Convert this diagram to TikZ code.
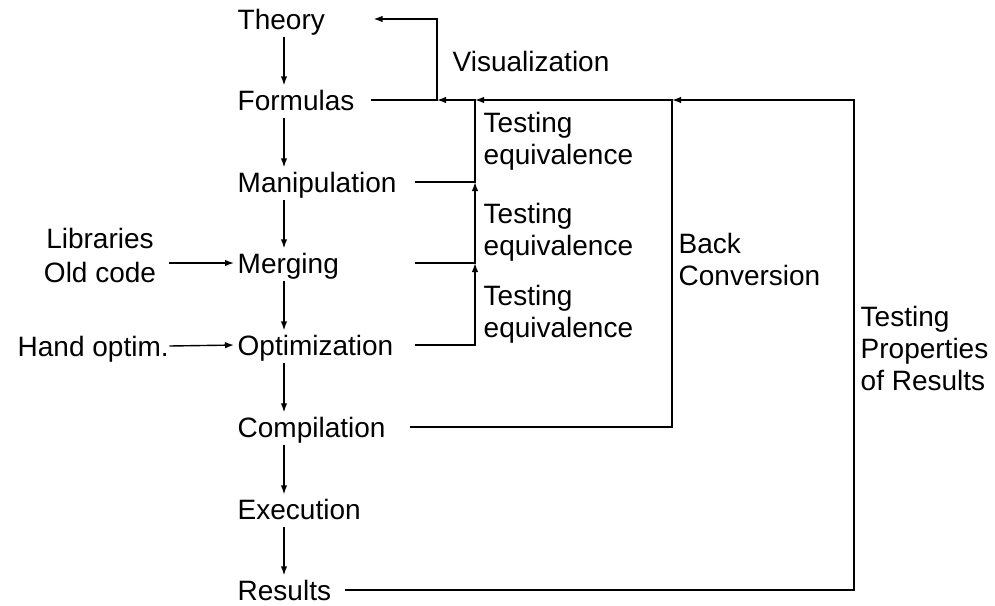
\documentclass[tikz,border=0pt]{standalone}
\usepackage{fontspec}
\setmainfont{Liberation Sans}
\usepackage{tikz}
\usetikzlibrary{arrows.meta}

\begin{document}
\begin{tikzpicture}[x=1pt, y=-1pt, line width=1.4pt,
    >={Latex[length=9pt,width=6.5pt]},
    stage/.style={anchor=base west, inner sep=0pt, text height=20pt, text depth=0pt,
      font=\fontsize{28}{32}\selectfont},
    note/.style={anchor=base west, inner sep=0pt, font=\fontsize{28}{32}\selectfont}
    ]
    \useasboundingbox (0,0) rectangle (995,605);
    \node[stage] (theory) at (237,29) {Theory};
    \node[stage] (formulas) at (237,110) {Formulas};
    \node[stage] (manip) at (237,192) {Manipulation};
    \node[stage] (merging) at (237,273) {Merging};
    \node[stage] (optim) at (237,355) {Optimization};
    \node[stage] (compil) at (237,437) {Compilation};
    \node[stage] (exec) at (237,519) {Execution};
    \node[stage] (results) at (237,600) {Results};

    \node[note, anchor=base, font=\fontsize{28}{34}\selectfont] (libs) at (100,248)
      {\begin{tabular}[t]{@{}c@{}}Libraries\\Old code\end{tabular}};
    \node[stage] (hand) at (17,356) {Hand optim.};

    \node[note] (visual) at (452,71) {Visualization};
    \node[note] (test1) at (483,132) {\begin{tabular}[t]{@{}l@{}}Testing\\equivalence\end{tabular}};
    \node[note] (test2) at (483,223) {\begin{tabular}[t]{@{}l@{}}Testing\\equivalence\end{tabular}};
    \node[note] (test3) at (483,305) {\begin{tabular}[t]{@{}l@{}}Testing\\equivalence\end{tabular}};
    \node[note] (back) at (678,253) {\begin{tabular}[t]{@{}l@{}}Back\\Conversion\end{tabular}};
    \node[note] (props) at (860,326)
      {\begin{tabular}[t]{@{}l@{}}Testing\\Properties\\of Results\end{tabular}};

    \coordinate (spine) at (284,0);
    \coordinate (vis) at (437,0);
    \coordinate (tx) at (415,0);
    \coordinate (tv) at (475,0);
    \coordinate (bc) at (672,0);
    \coordinate (tp) at (854,0);

    \draw[->, shorten <=7pt, shorten >=4pt] (theory.south -| spine) -- (formulas.north -| spine);
    \draw[->, shorten <=7pt, shorten >=4pt] (formulas.south -| spine) -- (manip.north -| spine);
    \draw[->, shorten <=7pt, shorten >=4pt] (manip.south -| spine) -- (merging.north -| spine);
    \draw[->, shorten <=7pt, shorten >=4pt] (merging.south -| spine) -- (optim.north -| spine);
    \draw[->, shorten <=7pt, shorten >=4pt] (optim.south -| spine) -- (compil.north -| spine);
    \draw[->, shorten <=7pt, shorten >=4pt] (compil.south -| spine) -- (exec.north -| spine);
    \draw[->, shorten <=7pt, shorten >=4pt] (exec.south -| spine) -- (results.north -| spine);

    \draw[->, shorten <=12pt, shorten >=3pt] (merging.west -| libs.east) -- (merging.west);
    \draw[->, shorten >=3pt] (hand.east) -- (optim.west);

    \draw[->, shorten <=16pt, shorten >=48pt] (formulas.east) -- (formulas.east -| vis)
      -- (vis |- theory.east) -- (theory.east);
    \draw[->] (manip.east -| tx) -- (manip.east -| tv) -- (formulas.east -| tv) -- (formulas.east -| vis);
    \draw[->] (merging.east -| tx) -- (merging.east -| tv) -- (manip.east -| tv);
    \draw[->] (optim.east -| tx) -- (optim.east -| tv) -- (merging.east -| tv);
    \draw[->, shorten <=24pt] (compil.east) -- (compil.east -| bc) -- (formulas.east -| bc)
      -- (formulas.east -| tv);
    \draw[->, shorten <=13pt] (results.east) -- (results.east -| tp) -- (formulas.east -| tp)
      -- (formulas.east -| bc);
  \end{tikzpicture}
\end{document}
